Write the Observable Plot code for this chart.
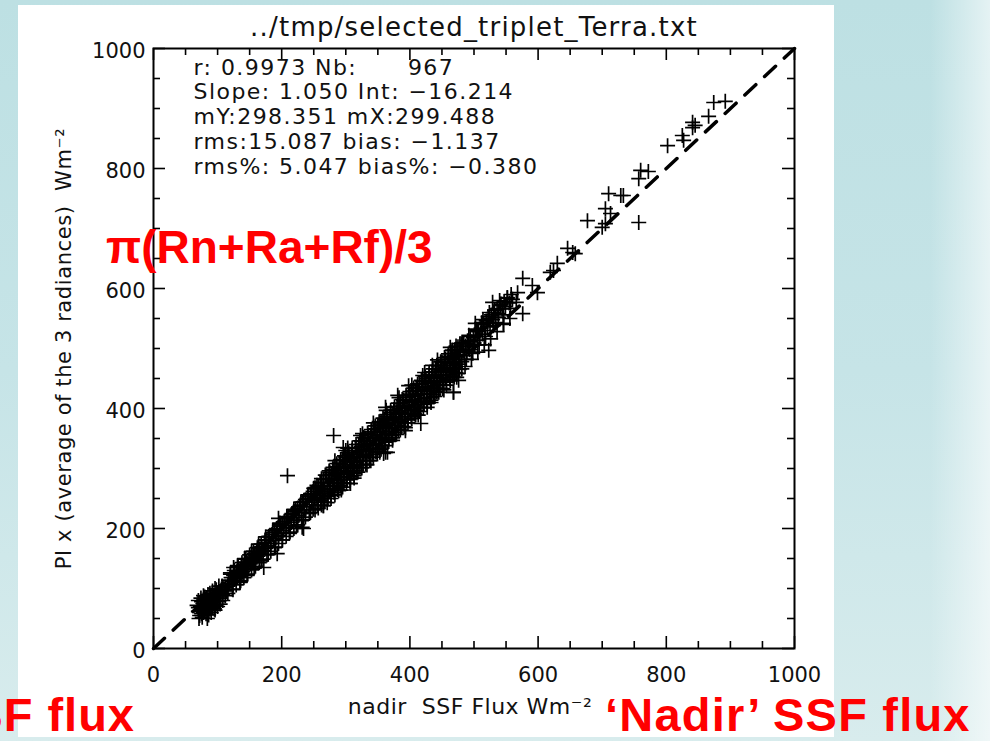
<!DOCTYPE html>
<html><head><meta charset="utf-8">
<script src="https://cdn.jsdelivr.net/npm/d3@7"></script>
<script src="https://cdn.jsdelivr.net/npm/@observablehq/plot@0.6"></script>
<style>
html,body{margin:0;padding:0;}
body{width:990px;height:741px;position:relative;overflow:hidden;
 background: linear-gradient(to right, rgba(255,255,255,0) 0px, rgba(255,255,255,0) 930px, rgba(255,255,255,0.6) 990px), linear-gradient(to bottom, #bde0e3 0%, #c6e4e7 50%, #d8eced 100%);}
#panel{position:absolute;left:18px;top:5px;width:816px;height:732px;background:#fff;}
#chart{position:absolute;left:0;top:0;}
#chart svg{overflow:visible;}
#chart text{white-space:pre;}
.red{position:absolute;color:#ff0000;font-family:"Liberation Sans",Arial,sans-serif;font-weight:bold;white-space:nowrap;line-height:1;}
</style></head><body>
<div id="panel"></div>
<div id="chart"></div>
<div class="red" id="formula" style="left:106px;top:224px;font-size:46px;">π(Rn+Ra+Rf)/3</div>
<div class="red" id="leftLab" style="right:855px;top:691px;font-size:47px;letter-spacing:1px;">SF flux</div>
<div class="red" id="rightLab" style="left:605px;top:691px;font-size:47px;letter-spacing:1.2px;">‘Nadir’ SSF flux</div>
<script>
// ---- data ----
const majorTicks = [0, 200, 400, 600, 800, 1000];
const minorTicks = [50, 100, 150, 250, 300, 350, 450, 500, 550, 650, 700, 750, 850, 900, 950];
const titleText = "../tmp/selected_triplet_Terra.txt";
const xLabel = "nadir  SSF Flux Wm⁻²";
const yLabel = "PI x (average of the 3 radiances)  Wm⁻²";
const statLines = [
  "r: 0.9973 Nb:      967",
  "Slope: 1.050 Int: −16.214",
  "mY:298.351 mX:299.488",
  "rms:15.087 bias: −1.137",
  "rms%: 5.047 bias%: −0.380"
];
const oneToOne = [0, 1000];

const lowCluster = [[72,55],[74,62],[75,58],[76,66],[78,60],[78,70],[80,64],[80,74],[82,68],[82,58],[84,72],[84,78],[85,63],[86,70],[87,80],[88,66],[88,75],[90,72],[90,82],[91,78],[92,68],[93,85],[94,76],[95,88],[96,80],[97,72],[98,84],[99,92],[100,78],[101,88],[102,95],[104,84],[105,92],[106,99],[108,90],[110,97],[73,70],[76,52],[79,78],[83,84],[86,56],[89,88],[92,90],[95,66],[98,98],[103,80],[107,104],[112,102],[114,96],[77,75],[81,82],[85,90],[70,62],[71,50],
[68,72],[70,80],[74,84],[78,88],[84,50],[90,60],[96,64],[100,70],[104,74],[108,80],[112,88],[116,92],[92,96],[88,92],[80,86],[75,78],[70,68],[102,104],[96,100]];

const bandLower = [[116,104],[117,114],[119,108],[121,118],[123,111],[125,122],[127,116],[129,126],[131,119],[133,130],[135,124],[137,135],[139,128],[141,138],[143,132],[145,144],[147,136],[149,148],[151,141],[153,152],[155,146],[157,158],[159,150],[161,162],[163,154],[165,166],[167,158],[169,170],[171,163],[173,176],[175,167],[177,180],[179,171],[181,186],[183,175],[185,190],[187,180],[189,194],[191,184],[193,198],[195,188],[197,204],[199,192],[201,208],[203,197],[205,212],[207,201],[209,216],[211,205],[213,220],[215,210],[217,224],[219,214],[221,229],[223,218],[225,234],[227,222],[229,239],[231,227],[233,244],[235,231],[237,248],[239,236],[241,253],[243,240],[245,258],[247,244],[249,262],[251,249],[253,266],[255,252],[257,270],[259,258],[130,128],[134,120],[140,133],[146,142],[150,150],[156,150],[160,156],[164,160],[138,126],[144,140],
[120,126],[124,98],[131,138],[135,110],[142,150],[146,122],[153,162],[157,134],[164,174],[168,146],[175,186],[179,157],[186,197],[190,169],[197,209],[201,181],[208,220],[212,192],[219,232],[223,204],[230,244],[234,215],[241,256],[245,227],[252,268],[256,238]];

const bandLowerFill = [[120,124],[123,99],[126,130],[129,106],[132,137],[135,112],[138,143],[141,118],[144,149],[147,124],[150,156],[153,131],[156,162],[159,137],[162,168],[165,143],[168,174],[171,149],[174,181],[177,156],[180,187],[183,162],[186,193],[189,168],[192,200],[195,175],[198,206],[201,181],[204,212],[207,187],[210,219],[213,194],[216,225],[219,200],[222,231],[225,206],[228,237],[231,213],[234,244],[237,219],[240,250],[243,225],[246,256],[249,232]];

const bandCore = [
[261,246],[262,270],[263,255],[264,262],[265,276],[266,250],[267,266],[269,258],
[271,270],[272,254],[273,282],[274,262],[275,276],[276,266],[278,290],[279,272],
[281,266],[282,284],[283,276],[284,292],[286,280],[287,270],[288,296],[289,286],
[291,276],[292,300],[293,290],[294,282],[296,306],[297,294],[298,286],[299,302],
[301,290],[302,312],[303,300],[304,294],[306,316],[307,304],[308,296],[309,320],
[311,300],[312,318],[313,310],[314,304],[316,326],[317,314],[318,306],[319,330],
[321,312],[322,328],[323,320],[324,336],[326,318],[327,332],[328,324],[329,340],
[331,322],[332,338],[333,330],[334,346],[336,328],[337,342],[338,334],[339,352],
[341,332],[342,350],[343,340],[344,356],[346,338],[347,352],[348,346],[349,362],
[351,342],[352,360],[353,350],[354,368],[356,348],[357,362],[358,356],[359,374],
[361,352],[362,370],[363,362],[364,380],[366,358],[367,374],[368,366],[369,384],
[371,362],[372,380],[373,372],[374,390],[376,368],[377,384],[378,376],[379,394],
[381,372],[382,392],[383,382],[384,400],[386,378],[387,394],[388,386],[389,404],
[391,382],[392,402],[393,392],[394,410],[396,390],[397,404],[398,396],[399,414],
[401,392],[402,412],[403,402],[404,420],[406,398],[407,414],[408,406],[409,424],
[411,402],[412,422],[413,412],[414,430],[416,410],[417,424],[418,416],[419,436],
[421,412],[422,432],[423,424],[424,442],[426,418],[427,436],[428,428],[429,446],
[431,424],[432,444],[433,434],[434,452],[436,430],[437,446],[438,438],[439,456],
[441,434],[442,454],[443,444],[444,462],[446,440],[447,456],[448,450],[449,466],
[451,446],[452,464],[453,456],[454,472],[456,452],[457,468],[458,460],[459,476],
[461,456],[462,476],[463,466],[464,484],[466,462],[467,478],[468,472],[469,488],
[471,468],[472,486],[473,478],[474,494],[476,474],[477,490],[478,482],[479,498]];

const bandSpread = [[262,283],[265,238],[268,289],[271,243],[274,296],[277,250],[280,302],[283,256],[286,308],[289,263],[292,315],[295,269],[298,321],[301,275],[304,327],[307,282],[310,334],[313,288],[316,340],[319,294],[322,346],[325,301],[328,352],[331,307],[334,359],[337,313],[340,365],[343,319],[346,371],[349,326],[352,378],[355,332],[358,384],[361,338],[364,390],[367,345],[370,397],[373,351],[376,403],[379,357],[382,409],[385,364],[388,415],[391,370],[394,422],[397,376],[400,428],[403,383],[406,434],[409,389],[412,441],[415,395],[418,447],[421,401],[424,453],[427,408],[430,460],[433,414],[436,466],[439,420],[442,472],[445,427],[448,478],[451,433],[454,485],[457,439],[460,491],[463,446],[466,497],[469,452],[472,504],[475,458],[478,508],[481,466]];

const bandAbove = [[250,267],[255,272],[260,277],[265,282],[270,288],[275,293],[280,298],[285,303],[290,309],[295,314],[300,319],[305,324],[310,330],[315,335],[320,340],[325,345],[330,351],[335,356],[340,361],[345,366],[350,372],[355,377],[360,382],[365,387],[370,393],[375,398],[380,403],[385,408],[390,414],[395,419],[400,424],[405,429],[410,435],[415,440],[420,445],[425,450],[430,456],[435,461],[440,466],[445,471],[450,477],[455,482],[460,487],[465,492],[470,498],[475,503],[480,508]];

const bandBelow = [[252,231],[257,234],[262,239],[267,244],[272,250],[277,255],[282,260],[287,265],[292,271],[297,276],[302,281],[307,286],[312,292],[317,297],[322,302],[327,307],[332,313],[337,318],[342,323],[347,328],[352,334],[357,339],[362,344],[367,349],[372,355],[377,360],[382,365],[387,370],[392,376],[397,381],[402,386],[407,391],[412,397],[417,402],[422,407],[427,412],[432,418],[437,423],[442,428],[447,433],[452,439],[457,444],[462,449],[467,454],[472,460],[477,465]];

const bandOuter = [[283,313],[293,264],[303,334],[313,284],[323,355],[333,306],[343,376],[353,327],[363,397],[373,347],[383,418],[393,368],[403,439],[413,389],[423,460],[433,410],[443,481],[453,431],[463,502],[473,452]];

const bandUpper = [[481,478],[483,496],[485,488],[487,504],[489,494],[491,508],[493,498],[495,512],[497,504],[499,518],[501,506],[503,522],[505,514],[507,528],[509,520],[511,534],[513,524],[515,540],[517,530],[519,546],[521,536],[523,550],[525,542],[527,556],[529,548],[531,560],[533,552],[536,566],[538,558],[541,572],[544,566],[547,578],[549,570],[552,584],[555,576],[558,590],[560,582],
[484,508],[488,482],[494,520],[498,492],[504,532],[508,506],[514,548],[518,520],[524,560],[530,538],[540,580],[546,556],
[482,510],[486,470],[492,522],[496,482],[502,532],[506,494],[512,543],[516,506],[522,553],[526,516],[532,564],[536,528],[542,574],[546,540],[552,585],[556,550]];

const bandEdges = [[195,217],[362,402],[381,422],[398,438],[420,455],[435,472],[466,497],[490,513],[505,530],[502,542],[234,200],[393,363],[417,375],[427,402],[468,427],[476,447],[523,497],[339,313],[362,327],[307,275],[265,238],[193,158],[172,135],[136,113],[125,135],[296,335],[326,358],[359,325],[300,330],[365,327],[232,202]];

const upperSparse = [[566,577],[529,577],[557,567],[576,558],[538,552],[546,542],[534,543],[576,617],[591,605],[599,593],[568,593],
[619,627],[624,630],[630,642],[646,667],[654,660],[658,658],[677,713],[700,702],[705,708],[705,733],[713,725],[710,758],[729,755],[733,755],[757,783],[760,797],[772,795],[757,710],[802,838],[825,855],[827,847],[841,877],[845,872],[841,868],[866,887],[874,910],[892,912]];

const outliers = [[209,288],[281,355],[468,427],[307,275]];

const points = [...lowCluster, ...bandLower, ...bandLowerFill, ...bandCore, ...bandSpread, ...bandAbove, ...bandBelow, ...bandOuter, ...bandUpper, ...bandEdges, ...upperSparse, ...outliers];

// ---- layout ----
const W = 990, H = 741, mL = 153, mR = 196, mT = 48, mB = 93;
const fw = W - mL - mR, fh = H - mT - mB;
const majorLen = 12, minorLen = 7;
const tk = {stroke: "black", strokeWidth: 1.6};

const statMarks = statLines.map((s, i) => Plot.text([s], {
  text: d => d, frameAnchor: "top-left", textAnchor: "start", lineAnchor: "middle",
  dx: 40, dy: 19 + i * 24.75, fontSize: 22, fill: "#111"
}));

const chart = Plot.plot({
  width: W, height: H,
  marginLeft: mL, marginRight: mR, marginTop: mT, marginBottom: mB,
  style: {background: "transparent", fontFamily: "DejaVu Sans", fontSize: "21px", color: "#111"},
  x: {domain: [0, 1000]},
  y: {domain: [0, 1000]},
  marks: [
    Plot.line(oneToOne.map(v => ({v})), {x: "v", y: "v", stroke: "black", strokeWidth: 3.5, strokeDasharray: "15,12"}),
    Plot.dot(points, {x: d => d[0], y: d => d[1], symbol: "plus", r: 4.9, stroke: "black", strokeWidth: 1.7}),
    Plot.frame({stroke: "black", strokeWidth: 2}),
    Plot.ruleX(majorTicks, {x: d => d, insetTop: fh - majorLen, ...tk}),
    Plot.ruleX(majorTicks, {x: d => d, insetBottom: fh - majorLen, ...tk}),
    Plot.ruleX(minorTicks, {x: d => d, insetTop: fh - minorLen, ...tk}),
    Plot.ruleX(minorTicks, {x: d => d, insetBottom: fh - minorLen, ...tk}),
    Plot.ruleY(majorTicks, {y: d => d, insetRight: fw - majorLen, ...tk}),
    Plot.ruleY(majorTicks, {y: d => d, insetLeft: fw - majorLen, ...tk}),
    Plot.ruleY(minorTicks, {y: d => d, insetRight: fw - minorLen, ...tk}),
    Plot.ruleY(minorTicks, {y: d => d, insetLeft: fw - minorLen, ...tk}),
    Plot.axisX({ticks: majorTicks, tickFormat: d => String(d), tickSize: 0, tickPadding: 19, label: null, fontSize: 21}),
    Plot.axisY({ticks: majorTicks, tickFormat: d => String(d), tickSize: 0, tickPadding: 8, label: null, fontSize: 21, dy: 3}),
    Plot.text([titleText], {text: d => d, frameAnchor: "top", textAnchor: "middle", lineAnchor: "middle", dy: -21, fontSize: 26, fill: "#111"}),
    Plot.text([xLabel], {text: d => d, frameAnchor: "bottom", textAnchor: "middle", lineAnchor: "middle", dx: -4, dy: 58, fontSize: 22, fill: "#111"}),
    Plot.text([yLabel], {text: d => d, frameAnchor: "left", textAnchor: "middle", lineAnchor: "middle", rotate: -90, dx: -89, fontSize: 21, fill: "#111"}),
    ...statMarks
  ]
});
document.getElementById("chart").appendChild(chart);

// letter spacing to mimic the wide IDL vector font
const spacing = new Map([[titleText, "1.2px"], [xLabel, "0.5px"], [yLabel, "0.6px"]]);
statLines.forEach(s => spacing.set(s, "1.45px"));
d3.select(chart).selectAll("text").each(function() {
  const ls = spacing.get(this.textContent);
  if (ls) this.style.letterSpacing = ls;
});
</script>
</body></html>
